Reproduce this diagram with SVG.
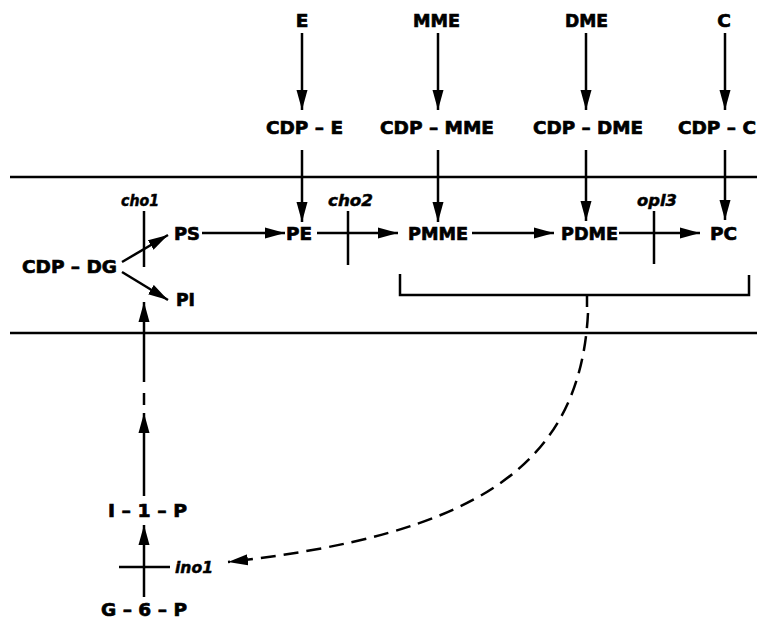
<svg xmlns="http://www.w3.org/2000/svg" width="757" height="619" viewBox="0 0 757 619">
<style>
text{font-family:"DejaVu Sans","Liberation Sans",sans-serif;font-weight:bold;font-size:18.5px;fill:#000;stroke:#000;stroke-width:0.7}
.g{font-style:italic;font-size:16.5px;stroke-width:0.5}
.ln{stroke:#000;stroke-width:2.5;fill:none}
.ar{stroke:#000;stroke-width:2.5;fill:none;marker-end:url(#ah)}
.mem{stroke:#000;stroke-width:2.5}
</style>
<defs>
<marker id="ah" markerUnits="userSpaceOnUse" markerWidth="22" markerHeight="12" refX="20" refY="6" orient="auto" viewBox="0 0 22 12">
<path d="M0,0.5 L20,6 L0,11.5 z" fill="#000"/>
</marker>
</defs>
<rect width="757" height="619" fill="#fff"/>
<g id="membrane">
<line class="mem" x1="10" y1="177" x2="757" y2="177"/>
<line class="mem" x1="10" y1="333" x2="757" y2="333"/>
</g>
<g id="connectors">
<line class="ar" x1="302" y1="33" x2="302" y2="110"/>
<line class="ar" x1="302" y1="150" x2="302" y2="222"/>
<line class="ar" x1="438" y1="33" x2="438" y2="110"/>
<line class="ar" x1="438" y1="150" x2="438" y2="222"/>
<line class="ar" x1="586" y1="33" x2="586" y2="110"/>
<line class="ar" x1="586" y1="150" x2="586" y2="221"/>
<line class="ar" x1="725" y1="33" x2="725" y2="110"/>
<line class="ar" x1="725" y1="150" x2="725" y2="220"/>
<line class="ar" x1="122" y1="262" x2="168" y2="235"/>
<line class="ar" x1="122" y1="272" x2="168" y2="300"/>
<line class="ar" x1="202" y1="233" x2="285" y2="233"/>
<line class="ar" x1="317" y1="233" x2="398" y2="233"/>
<line class="ar" x1="472" y1="233" x2="554" y2="233"/>
<line class="ar" x1="619" y1="233" x2="700" y2="233"/>
<line class="ar" x1="144" y1="382" x2="144" y2="302"/>
<line class="ln" x1="144" y1="393" x2="144" y2="405"/>
<line class="ar" x1="144" y1="496" x2="144" y2="413"/>
<line class="ar" x1="144" y1="597" x2="144" y2="525"/>
<path class="ln" d="M400,274 V295 H749 V275"/>
<line class="ln" x1="587" y1="295" x2="587" y2="307"/>
<path class="ar" stroke-dasharray="15,8" d="M588,313 C580,470 470,535 228,562"/>
</g>
<g id="blocks">
<line class="ln" x1="144" y1="211" x2="144" y2="267"/>
<line class="ln" x1="348" y1="211" x2="348" y2="265"/>
<line class="ln" x1="654" y1="211" x2="654" y2="264"/>
<line class="ln" x1="119" y1="567" x2="170" y2="567"/>
</g>
<g id="E"><text x="302" y="27" text-anchor="middle">E</text></g>
<g id="MME"><text x="413" y="27" textLength="47" lengthAdjust="spacingAndGlyphs">MME</text></g>
<g id="DME"><text x="565" y="27" textLength="43" lengthAdjust="spacingAndGlyphs">DME</text></g>
<g id="C"><text x="724" y="27" text-anchor="middle">C</text></g>
<g id="CDP-E"><text x="266" y="134" textLength="77" lengthAdjust="spacingAndGlyphs">CDP – E</text></g>
<g id="CDP-MME"><text x="380" y="134" textLength="114" lengthAdjust="spacingAndGlyphs">CDP – MME</text></g>
<g id="CDP-DME"><text x="533" y="134" textLength="110" lengthAdjust="spacingAndGlyphs">CDP – DME</text></g>
<g id="CDP-C"><text x="678" y="134" textLength="78" lengthAdjust="spacingAndGlyphs">CDP – C</text></g>
<g id="CDP-DG"><text x="22" y="273" textLength="95" lengthAdjust="spacingAndGlyphs">CDP – DG</text></g>
<g id="PS"><text x="174" y="240" textLength="26" lengthAdjust="spacingAndGlyphs">PS</text></g>
<g id="PE"><text x="286" y="240" textLength="26" lengthAdjust="spacingAndGlyphs">PE</text></g>
<g id="PMME"><text x="408" y="240" textLength="60" lengthAdjust="spacingAndGlyphs">PMME</text></g>
<g id="PDME"><text x="561" y="240" textLength="57" lengthAdjust="spacingAndGlyphs">PDME</text></g>
<g id="PC"><text x="710" y="240" textLength="27" lengthAdjust="spacingAndGlyphs">PC</text></g>
<g id="PI"><text x="176" y="306" textLength="19" lengthAdjust="spacingAndGlyphs">PI</text></g>
<g id="I-1-P"><text x="108" y="517" textLength="79" lengthAdjust="spacingAndGlyphs">I – 1 – P</text></g>
<g id="G-6-P"><text x="101" y="616" textLength="86" lengthAdjust="spacingAndGlyphs">G – 6 – P</text></g>
<g id="cho1"><text class="g" x="121" y="206" textLength="38" lengthAdjust="spacingAndGlyphs">cho1</text></g>
<g id="cho2"><text class="g" x="328" y="206" textLength="45" lengthAdjust="spacingAndGlyphs">cho2</text></g>
<g id="opl3"><text class="g" x="637" y="206" textLength="40" lengthAdjust="spacingAndGlyphs">opl3</text></g>
<g id="ino1"><text class="g" x="175" y="573" textLength="38" lengthAdjust="spacingAndGlyphs">ino1</text></g>
</svg>
